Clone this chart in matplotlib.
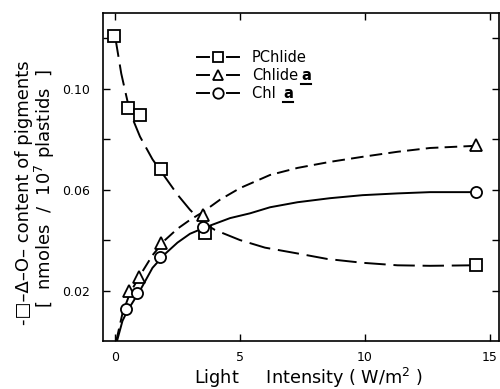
import matplotlib
matplotlib.use("Agg")
import matplotlib.pyplot as plt
from matplotlib.lines import Line2D

plt.rcParams['font.family'] = ['DejaVu Sans']

# Measured points
pchl_x = [-0.05, 0.5, 1.0, 1.84, 3.6, 14.45]
pchl_y = [0.121, 0.0924, 0.0896, 0.068, 0.0427, 0.0303]

chlide_x = [0.56, 0.95, 1.84, 3.5, 14.45]
chlide_y = [0.020, 0.0252, 0.039, 0.0498, 0.0777]

chl_x = [0.44, 0.88, 1.8, 3.5, 14.45]
chl_y = [0.0128, 0.019, 0.0333, 0.045, 0.059]

# Fitted curves
pchl_cx = [0.0, 0.25, 0.5, 0.75, 1.0, 1.5, 2.0, 2.5, 3.0, 3.5, 4.0, 5.0, 6.0, 7.3, 8.5, 9.9, 11.3, 12.6, 14.3]
pchl_cy = [0.121, 0.106, 0.095, 0.087, 0.081, 0.072, 0.065, 0.058, 0.052, 0.047, 0.044, 0.040, 0.037,
           0.0347, 0.0325, 0.031, 0.030, 0.0298, 0.030]

chlide_cx = [0.05, 0.3, 0.6, 1.0, 1.5, 2.0, 2.5, 3.0, 3.5, 4.2, 5.0, 6.2, 7.3, 8.6, 9.9, 11.3, 12.6, 14.3]
chlide_cy = [0.0, 0.011, 0.019, 0.026, 0.034, 0.040, 0.0445, 0.048, 0.051, 0.056, 0.0606, 0.0658, 0.0686,
             0.071, 0.073, 0.075, 0.0765, 0.0773]

chl_cx = [0.08, 0.3, 0.5, 1.0, 1.5, 2.0, 2.5, 3.0, 3.6, 4.6, 5.4, 6.2, 7.3, 8.6, 9.9, 11.3, 12.6, 14.3]
chl_cy = [0.0, 0.008, 0.012, 0.020, 0.029, 0.0345, 0.039, 0.0425, 0.045, 0.0487, 0.0506, 0.053, 0.055,
          0.0566, 0.0578, 0.0585, 0.059, 0.059]

xticks = [0, 5, 10, 15]
xticklabels = ['0', '5', '10', '15']
yticks = [0.02, 0.06, 0.10]
yticklabels = ['0.02', '0.06', '0.10']
yminor = [0.04, 0.08, 0.12]

W, H = 500.0, 389.0
fig = plt.figure(figsize=(5.0, 3.89), dpi=100)
ax = fig.add_axes([103 / W, 1 - 341 / H, 396 / W, 328 / H])

lw = 1.4
ax.plot(pchl_cx, pchl_cy, color='black', lw=lw, dashes=(11, 4))
ax.plot(chlide_cx, chlide_cy, color='black', lw=lw, dashes=(6.5, 3.2))
ax.plot(chl_cx, chl_cy, color='black', lw=lw, ls='-')

mk = dict(ls='none', mfc='white', mec='black', mew=1.3, zorder=5)
ax.plot(pchl_x, pchl_y, marker='s', ms=8, **mk)
ax.plot(chlide_x, chlide_y, marker='^', ms=8, **mk)
ax.plot(chl_x, chl_y, marker='o', ms=8, **mk)

ax.set_xlim(-0.48, 15.36)
ax.set_ylim(0.0, 0.130)
ax.set_xticks(xticks)
ax.set_xticklabels(xticklabels)
ax.set_yticks(yticks)
ax.set_yticklabels(yticklabels)
ax.set_yticks(yminor, minor=True)
ax.tick_params(axis='both', which='both', direction='in', top=True, right=True,
               length=5, width=1.0, labelsize=9)
ax.tick_params(axis='y', which='major', pad=9.5)
ax.tick_params(axis='x', which='major', pad=7)
for s in ax.spines.values():
    s.set_linewidth(1.2)

fig.text(308 / W, 1 - 378 / H, 'Light     Intensity ( W/m$^2$ )', ha='center', va='center',
         fontsize=12.7)

fig.text(24 / W, 1 - 193 / H, '-\u25a1\u2013\u0394\u2013O\u2013 content of pigments', rotation=90,
         ha='center', va='center', fontsize=13)
fig.text(45 / W, 1 - 189 / H, '[  nmoles  /  10$^7$ plastids  ]', rotation=90,
         ha='center', va='center', fontsize=13)

# Legend drawn manually
rows = [(57, 's', 'PChlide', False),
        (75, '^', 'Chlide', True),
        (93, 'o', 'Chl ', True)]
for ypx, m, label, und in rows:
    yf = 1 - ypx / H
    fig.add_artist(Line2D([197 / W, 209 / W], [yf, yf], transform=fig.transFigure, color='black', lw=lw))
    fig.add_artist(Line2D([227 / W, 239 / W], [yf, yf], transform=fig.transFigure, color='black', lw=lw))
    fig.add_artist(Line2D([218 / W], [yf], transform=fig.transFigure, marker=m, ms=7.5,
                          mfc='white', mec='black', mew=1.3, ls='none'))
    t = fig.text(252 / W, yf, label, ha='left', va='center', fontsize=10.5)
    if und:
        fig.canvas.draw()
        bb = t.get_window_extent()
        xa = bb.x1 + 3
        ta = fig.text(xa / W, yf, 'a', ha='left', va='center', fontsize=10.5, fontweight='bold')
        fig.canvas.draw()
        bba = ta.get_window_extent()
        yl = (bba.y0 - 1) / H
        fig.add_artist(Line2D([bba.x0 / W, bba.x1 / W], [yl, yl], transform=fig.transFigure,
                              color='black', lw=1.5))

fig.savefig('out.png', dpi=100)
